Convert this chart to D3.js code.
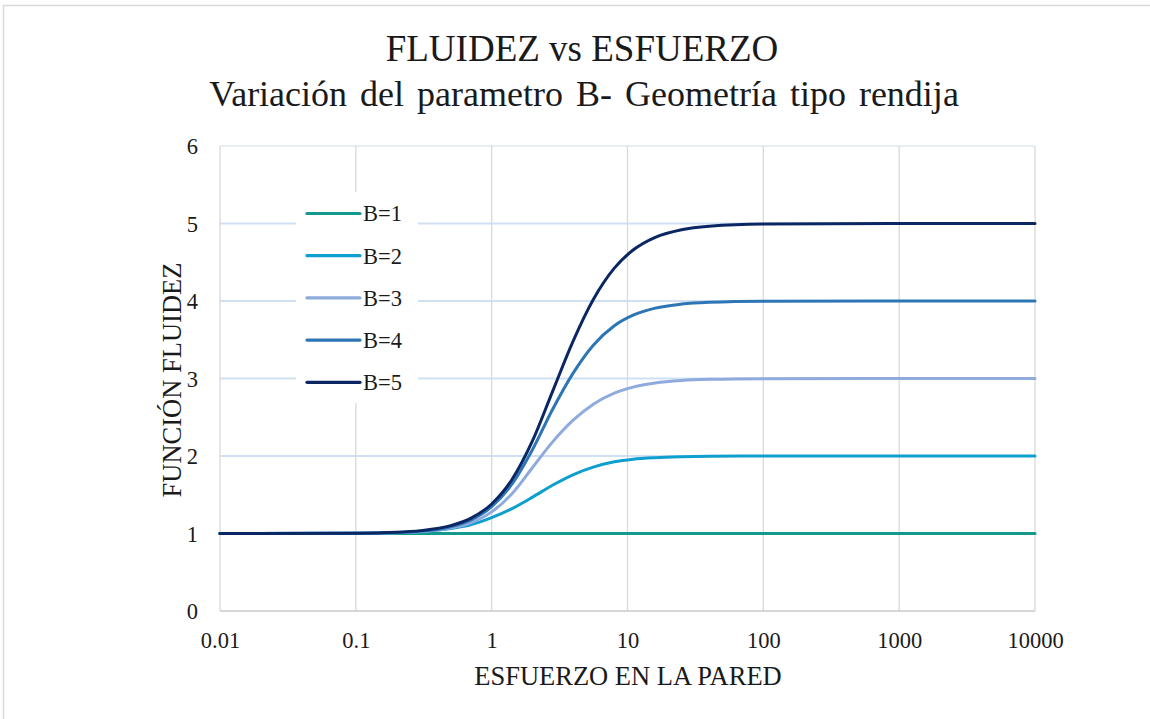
<!DOCTYPE html>
<html>
<head>
<meta charset="utf-8">
<script src="https://cdn.jsdelivr.net/npm/d3@7"></script>
<style>
  html, body { margin: 0; padding: 0; background: #ffffff; }
  svg { display: block; }
  text { font-family: "Liberation Serif", "Times New Roman", serif; fill: #1a1a1a; }
</style>
</head>
<body>
<svg id="chart" width="1150" height="719"></svg>
<script>
// Wall shear stress (log axis) and fluidity values for each B
const stress = [0.01, 0.1, 0.2, 0.3, 0.5, 0.7, 1, 1.4, 2, 2.8, 4, 5.6, 8, 11, 16, 25, 40, 100, 1000, 10000];
const fluidB1 = [1, 1, 1, 1, 1, 1, 1, 1, 1, 1, 1, 1, 1, 1, 1, 1, 1, 1, 1, 1];
const fluidB2 = [1, 1.003, 1.012, 1.026, 1.064, 1.113, 1.205, 1.318, 1.469, 1.622, 1.761, 1.856, 1.925, 1.958, 1.978, 1.99, 1.996, 1.999, 2, 2];
const fluidB3 = [1, 1.002, 1.009, 1.023, 1.069, 1.138, 1.279, 1.507, 1.852, 2.179, 2.465, 2.669, 2.812, 2.889, 2.942, 2.974, 2.989, 2.998, 3, 3];
const fluidB4 = [1, 1.003, 1.013, 1.030, 1.088, 1.173, 1.346, 1.63, 2.085, 2.597, 3.076, 3.43, 3.681, 3.817, 3.908, 3.96, 3.983, 3.997, 4, 4];
const fluidB5 = [1, 1.004, 1.016, 1.037, 1.101, 1.195, 1.381, 1.687, 2.197, 2.828, 3.492, 4.019, 4.424, 4.658, 4.822, 4.92, 4.966, 4.994, 5, 5];

const seriesNames = ["B=1", "B=2", "B=3", "B=4", "B=5"];
const seriesValues = [fluidB1, fluidB2, fluidB3, fluidB4, fluidB5];
const seriesColors = ["#139a8f", "#0e9fcf", "#8faadc", "#2e75b6", "#0b2763"];

const xTicks = [0.01, 0.1, 1, 10, 100, 1000, 10000];
const xTickLabels = ["0.01", "0.1", "1", "10", "100", "1000", "10000"];
const yTicks = [0, 1, 2, 3, 4, 5, 6];
const yTickLabels = ["0", "1", "2", "3", "4", "5", "6"];

const titleLines = ["FLUIDEZ vs ESFUERZO", "Variación del parametro B- Geometría tipo rendija"];
const xTitle = "ESFUERZO EN LA PARED";
const yTitle = "FUNCIÓN FLUIDEZ";

const svg = d3.select("#chart");

// chart frame
svg.append("rect")
  .attr("x", 3.5).attr("y", 5.5)
  .attr("width", 1300).attr("height", 900)
  .attr("fill", "#ffffff")
  .attr("stroke", "#d9d9d9").attr("stroke-width", 1.5);

const x = d3.scaleLog().domain([0.01, 10000]).range([220, 1035]);
const y = d3.scaleLinear().domain([0, 6]).range([611, 146]);

// horizontal gridlines
svg.append("g").selectAll("line")
  .data(yTicks.filter(v => v > 0))
  .join("line")
  .attr("x1", x(0.01)).attr("x2", x(10000))
  .attr("y1", d => y(d)).attr("y2", d => y(d))
  .attr("stroke", d => d === 6 ? "#e6eef8" : "#cfe0f3")
  .attr("stroke-width", 2);

// vertical gridlines
svg.append("g").selectAll("line")
  .data(xTicks)
  .join("line")
  .attr("x1", d => x(d)).attr("x2", d => x(d))
  .attr("y1", y(6)).attr("y2", y(0))
  .attr("stroke", "#d9d9d9")
  .attr("stroke-width", 1.3);

// bottom axis line
svg.append("line")
  .attr("x1", x(0.01)).attr("x2", x(10000))
  .attr("y1", y(0)).attr("y2", y(0))
  .attr("stroke", "#c8c8c8").attr("stroke-width", 1.5);

// x axis labels
const xAxis = d3.axisBottom(x)
  .tickValues(xTicks)
  .tickFormat((d, i) => xTickLabels[i])
  .tickSize(0)
  .tickPadding(0);
const gx = svg.append("g").attr("transform", `translate(0,${y(0)})`).call(xAxis);
gx.select(".domain").remove();
gx.selectAll("text")
  .attr("y", 37).attr("dy", null)
  .style("font-family", "'Liberation Serif', serif")
  .style("font-size", "22.5px")
  .style("fill", "#1a1a1a");

// y axis labels
const yAxis = d3.axisLeft(y)
  .tickValues(yTicks)
  .tickFormat((d, i) => yTickLabels[i])
  .tickSize(0)
  .tickPadding(0);
const gy = svg.append("g").attr("transform", `translate(198,0)`).call(yAxis);
gy.select(".domain").remove();
gy.selectAll("text")
  .attr("x", 0).attr("dy", "0.35em")
  .style("font-family", "'Liberation Serif', serif")
  .style("font-size", "22.5px")
  .style("fill", "#1a1a1a");

// legend background sits over the gridlines
svg.append("rect")
  .attr("x", 296).attr("y", 192)
  .attr("width", 122).attr("height", 211)
  .attr("fill", "#ffffff");

// curves
const line = d3.line()
  .x(d => x(d[0]))
  .y(d => y(d[1]))
  .curve(d3.curveMonotoneX);

svg.append("g").selectAll("path")
  .data(seriesValues.map((vals, i) => ({ i, pts: stress.map((s, k) => [s, vals[k]]) })))
  .join("path")
  .attr("d", d => line(d.pts))
  .attr("fill", "none")
  .attr("stroke", d => seriesColors[d.i])
  .attr("stroke-width", 3)
  .attr("stroke-linecap", "round")
  .attr("stroke-linejoin", "round");

// legend
const legend = svg.append("g");
const entries = legend.selectAll("g")
  .data(seriesNames)
  .join("g")
  .attr("transform", (d, i) => `translate(0,${213.5 + i * 42.2})`);
entries.append("line")
  .attr("x1", 307).attr("x2", 360)
  .attr("y1", 0).attr("y2", 0)
  .attr("stroke", (d, i) => seriesColors[i])
  .attr("stroke-width", 3.2)
  .attr("stroke-linecap", "round");
entries.append("text")
  .attr("x", 363).attr("y", 0).attr("dy", "0.35em")
  .style("font-size", "22.5px")
  .text(d => d);

// titles
svg.append("text")
  .attr("x", 582).attr("y", 61)
  .attr("text-anchor", "middle")
  .style("font-size", "37px")
  .text(titleLines[0]);
svg.append("text")
  .attr("x", 584).attr("y", 106)
  .attr("text-anchor", "middle")
  .style("font-size", "36px")
  .style("word-spacing", "4px")
  .text(titleLines[1]);

svg.append("text")
  .attr("x", 628).attr("y", 685)
  .attr("text-anchor", "middle")
  .style("font-size", "26.5px")
  .text(xTitle);

svg.append("text")
  .attr("transform", "translate(181,380) rotate(-90)")
  .attr("text-anchor", "middle")
  .style("font-size", "26.5px")
  .text(yTitle);
</script>
</body>
</html>
